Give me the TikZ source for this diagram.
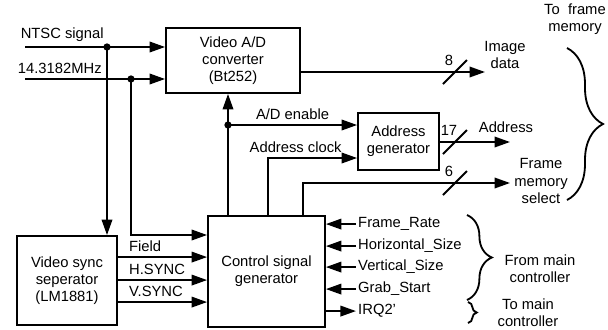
\documentclass[tikz,border=0pt]{standalone}
\usepackage{fontspec}
\setmainfont{Liberation Sans}
\usetikzlibrary{arrows.meta,decorations.pathreplacing,calc}
\begin{document}
\begin{tikzpicture}[x=0.025cm,y=-0.025cm,line width=1.3pt,
  font=\fontsize{10.5}{12.2}\selectfont,
  blk/.style={draw,align=center,inner sep=2pt},
  sig/.style={-{Triangle[length=11pt,width=7.5pt]}},
  brc/.style={decorate,decoration={brace,amplitude=#1}}]
\useasboundingbox (0,0) rectangle (608,330);
% blocks
\node[blk,minimum width=3.35cm,minimum height=1.625cm] (adc) at (233,60.5) {Video A/D\\converter\\(Bt252)};
\node[blk,minimum width=2.5cm,minimum height=2.225cm] (sync) at (67,280.5) {Video sync\\seperator\\(LM1881)};
\node[blk,minimum width=2.925cm,minimum height=2.775cm] (ctrl) at (266.5,271.5) {Control signal\\generator};
\node[blk,minimum width=2.025cm,minimum height=1.425cm] (addr) at (398.5,141.5) {Address\\generator};
% points
\coordinate (ntsc) at (25,47);
\coordinate (clk) at (25,79);
\coordinate (j1) at (107,47);
\coordinate (j2) at (131,79);
\coordinate (j2b) at (131,235);
\coordinate (j3) at (228,125);
\coordinate (k) at (268,158);
\coordinate (f) at (303,183);
\coordinate (fsel) at (510,183);
\coordinate (img) at (485,72);
\coordinate (ado) at (510,142);
% inputs
\draw[sig] (ntsc) node[above right,xshift=-7pt] (lntsc) {NTSC signal} -- (ntsc -| adc.west);
\draw[sig] (clk) node[above right,xshift=-9pt] (lclk) {14.3182MHz} -- (clk -| adc.west);
\draw[sig] (j1) -- (j1 |- sync.north);
\draw[sig] (j2) -- (j2b) -- (j2b -| ctrl.west);
\fill (j1) circle(2.6pt);
\fill (j2) circle(2.6pt);
% sync outputs
\foreach \dy/\txt in {22/Field,45/H.SYNC,67/V.SYNC}
  \draw[sig] ($(sync.north east)+(0,\dy)$) node[above right,xshift=4pt] {\txt}
    -- ($(ctrl.west |- sync.north)+(0,\dy)$);
% control outputs
\draw[sig] (ctrl.north -| j3) -- (j3 |- adc.south);
\draw[sig] (j3) -- (j3 -| addr.west) node[midway,above] (len) {A/D enable};
\fill (j3) circle(2.6pt);
\draw[sig] (ctrl.north -| k) -- (k) node[above right,xshift=-17pt] (lak) {Address clock} -- (k -| addr.west);
\draw[sig] (ctrl.north -| f) -- (f) -- (fsel);
\draw[sig] (img -| adc.east) -- (img);
\draw[sig] (ado -| addr.east) -- (ado);
% bus widths
\foreach \y/\n in {72/8,142/17,183/6}{
  \draw (455,\y) ++(-12,12) -- ++(24,-24);
  \path (455,\y) +(-6,-12) node {\n};
}
% main controller side
\foreach \dy/\txt in {9/Frame\_Rate,31/Horizontal\_Size,52/Vertical\_Size,74/Grab\_Start}
  \draw[sig] ($(ctrl.north east)+(30,\dy)$) node[right,inner sep=1pt] {\txt} -- ($(ctrl.north east)+(0,\dy)$);
\draw[sig] ($(ctrl.north east)+(0,96)$) -- ++(30,0) node[right,inner sep=1pt] (lirq) {IRQ2'};
% braces
\draw[brc=0.9cm] (567,48) -- (567,200);
\draw[brc=0.62cm] (467,215) -- (467,300);
\draw[brc=0.22cm] (468,302) -- (468,323);
% labels
\node[align=center] (tofm) at (575,19) {To\ \ frame\\memory};
\node[align=center] (limg) at (505,55) {Image\\data};
\node (lado) at (506,127) {Address};
\node[align=center] (lfsel) at (541,181) {Frame\\memory\\select};
\node[align=center] (frmc) at (540,269) {From main\\controller};
\node[align=center] (tomc) at (528,313) {To main\\controller};
\end{tikzpicture}
\end{document}
